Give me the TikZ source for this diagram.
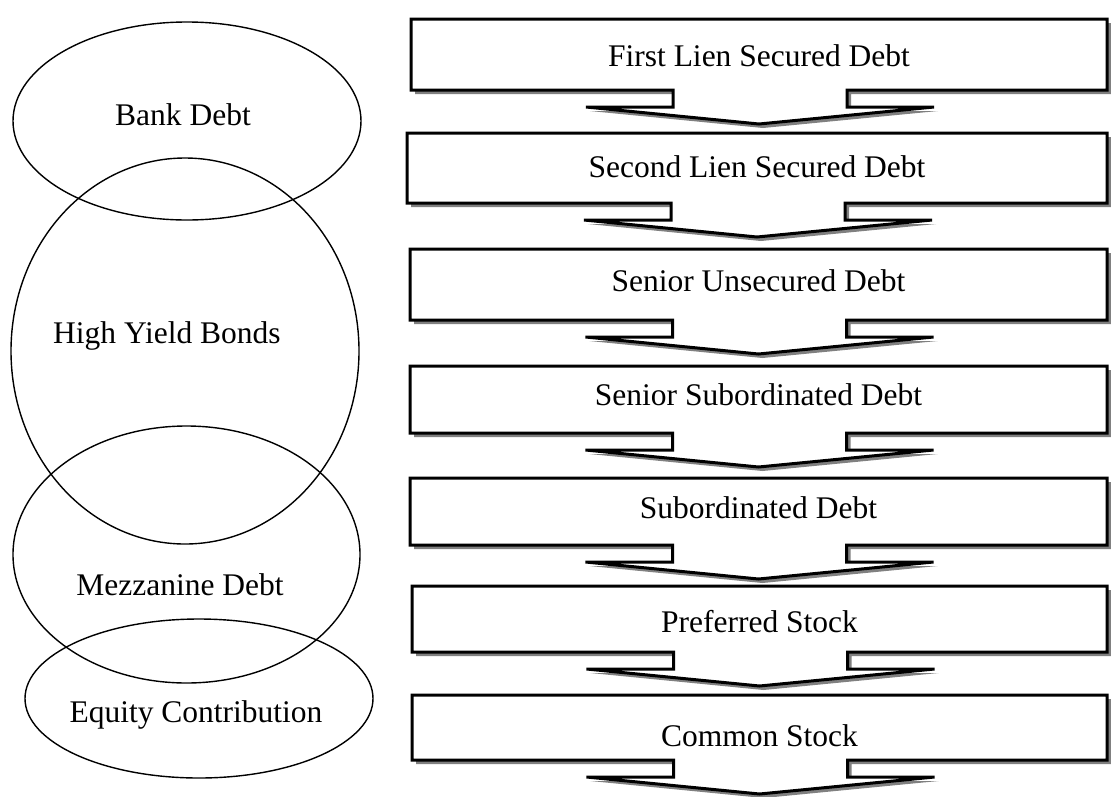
\documentclass[tikz,border=0pt]{standalone}
\usepackage{fontspec}
\setmainfont{Liberation Serif}
\usetikzlibrary{shapes.geometric}
\definecolor{shadowgray}{RGB}{128,128,128}
\newcommand{\calloutbox}[7]{%
  % #1 L, #2 R, #3 T, #4 B, #5 name, #6 text baseline, #7 text
  \pgfmathsetmacro{\cx}{(#1+#2)/2}
  \begin{scope}[shift={(4,4)}]
    \fill[shadowgray] (#1,#3) -- (#2,#3) -- (#2,#4) -- (\cx+88,#4) -- (\cx+88,#4+17) -- (\cx+175,#4+17) -- (\cx,#4+34) -- (\cx-173,#4+17) -- (\cx-86,#4+17) -- (\cx-86,#4) -- (#1,#4) -- cycle;
  \end{scope}
  \draw[calloutline] (#1,#3) -- (#2,#3) -- (#2,#4) -- (\cx+88,#4) -- (\cx+88,#4+17) -- (\cx+175,#4+17) -- (\cx,#4+34) -- (\cx-173,#4+17) -- (\cx-86,#4+17) -- (\cx-86,#4) -- (#1,#4) -- cycle;
  \node[lbl] (#5) at (\cx,#6) {#7};
}
\begin{document}
\begin{tikzpicture}[x=1pt,y=-1pt,
  lbl/.style={font=\fontsize{31.5}{38}\selectfont, anchor=base, inner sep=0pt},
  oval/.style={draw=black, line width=1.4pt, ellipse, inner sep=0pt},
  calloutline/.style={draw=black, fill=white, line width=3pt, line join=miter}]
\useasboundingbox (0,0) rectangle (1111,796);
\fill[white] (0,0) rectangle (1111,796);

% right column: priority boxes
\calloutbox{411}{1107}{19}{90}{first}{66}{First Lien Secured Debt}
\calloutbox{407}{1107}{133}{203}{second}{177}{Second Lien Secured Debt}
\calloutbox{410}{1107}{249}{320}{senunsec}{291}{Senior Unsecured Debt}
\calloutbox{410}{1107}{366}{433}{sensub}{405}{Senior Subordinated Debt}
\calloutbox{410}{1107}{478}{545}{sub}{518}{Subordinated Debt}
\calloutbox{412}{1107}{586}{652}{pref}{632}{Preferred Stock}
\calloutbox{412}{1107}{695}{760}{common}{746}{Common Stock}

% left column: ellipses
\node[oval, minimum width=348pt, minimum height=198pt] (bankE) at (187,121) {};
\node[oval, minimum width=348pt, minimum height=386pt] (hyE) at (185,351) {};
\node[oval, minimum width=347pt, minimum height=257pt] (mezzE) at (186.5,554.5) {};
\node[oval, minimum width=348pt, minimum height=159pt] (eqE) at (199,698.5) {};

\node[lbl] (bank) at (183,125) {Bank Debt};
\node[lbl] (hy) at (167,343) {High Yield Bonds};
\node[lbl] (mezz) at (180,595) {Mezzanine Debt};
\node[lbl] (eq) at (196,722) {Equity Contribution};
\end{tikzpicture}
\end{document}
